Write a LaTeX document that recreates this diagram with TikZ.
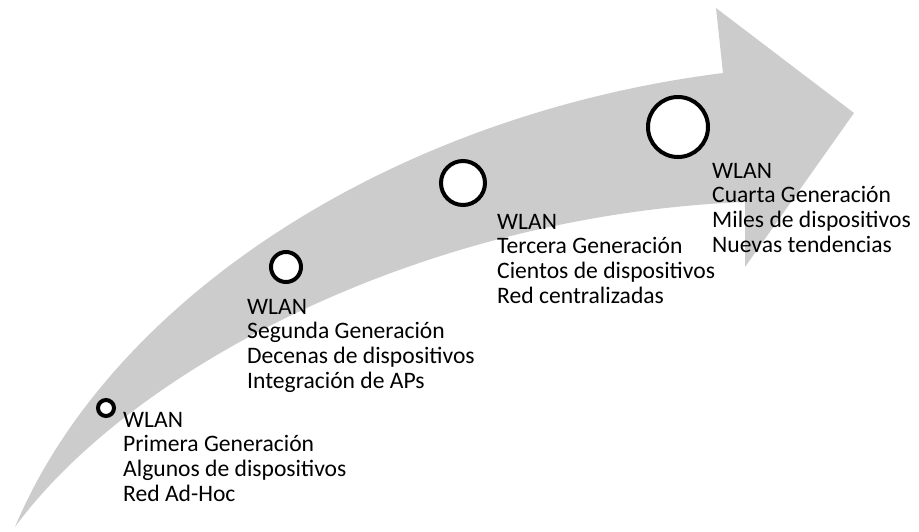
\documentclass[tikz,border=0pt]{standalone}
\usepackage{fontspec}
\setmainfont{Carlito}
\definecolor{arrowgray}{RGB}{204,204,204}
\begin{document}
\begin{tikzpicture}[x=1pt,y=-1pt,
  ring/.style={circle,draw=black,fill=white,line width=4pt,inner sep=0pt},
  label/.style={anchor=base west,align=left,inner sep=0pt,font=\fontsize{23.6}{24.8}\selectfont}]
\useasboundingbox (0,0) rectangle (919,531);
\fill[arrowgray] (15,527) .. controls (110,300) and (390,115) .. (723,73)
  -- (716,8) -- (854,113) -- (745,267) -- (745,202)
  .. controls (420,215) and (130,370) .. (15,527) -- cycle;
\node[ring,minimum size=16pt] (c1) at (106,408) {};
\node[ring,minimum size=30pt] (c2) at (286,267) {};
\node[ring,minimum size=44pt] (c3) at (463,183) {};
\node[ring,minimum size=60pt] (c4) at (678,127) {};
\node[label] (t1) at (123,501.4) {WLAN\\Primera Generación\\Algunos de dispositivos\\Red Ad-Hoc};
\node[label] (t2) at (247,388.4) {WLAN\\Segunda Generación\\Decenas de dispositivos\\Integración de APs};
\node[label] (t3) at (497,303.4) {WLAN\\Tercera Generación\\Cientos de dispositivos\\Red centralizadas};
\node[label] (t4) at (712,252.4) {WLAN\\Cuarta Generación\\Miles de dispositivos\\Nuevas tendencias};
\end{tikzpicture}
\end{document}
